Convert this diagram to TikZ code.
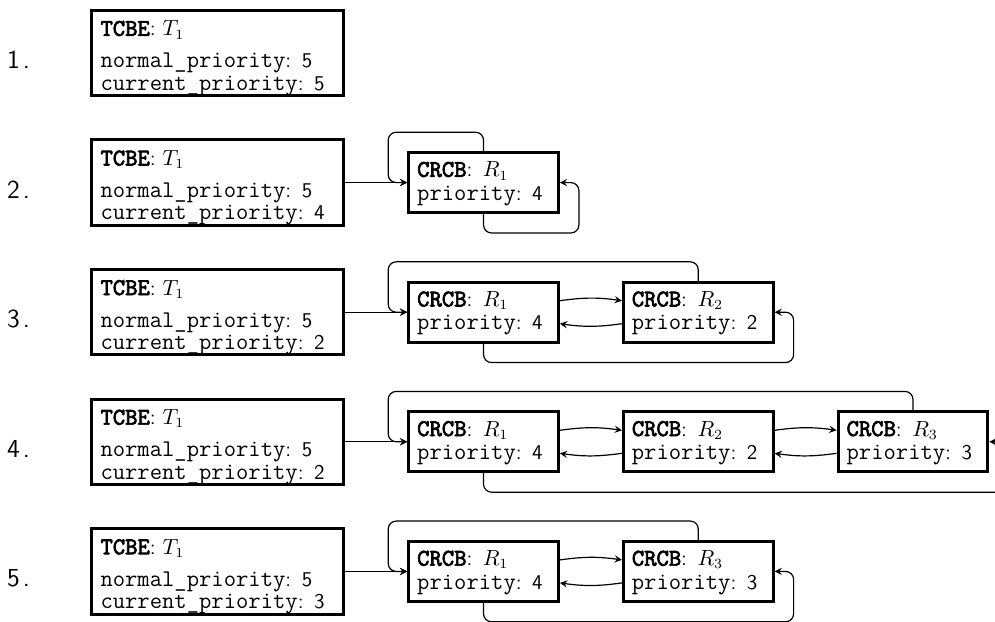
\documentclass[tikz,border=0pt]{standalone}
\usepackage{fontspec}
\setmonofont[Scale=1.14, BoldFont={Latin Modern Mono}, BoldFeatures={FakeBold=3}]{Latin Modern Mono}
\usetikzlibrary{positioning}

\begin{document}
\begin{tikzpicture}[x=0.5pt, y=-0.5pt, >=stealth, node distance=31pt,
    tcbebox/.style={draw, rectangle, line width=1.5pt, text width=117pt, inner xsep=4.6pt, inner ysep=0pt,
        align=left, font={\sffamily\fontsize{10.5}{11.2}\selectfont}},
    crcbbox/.style={draw, rectangle, line width=1.5pt, text width=66.35pt, inner xsep=4.25pt, inner ysep=3.4pt,
        align=left, font={\sffamily\fontsize{10.5}{11.7}\selectfont}},
    rowlabel/.style={font={\sffamily\fontsize{13}{15}\selectfont}},
    link/.style={->, semithick, rounded corners}]
    \useasboundingbox (0,0) rectangle (995,621);
    \clip (0,0) rectangle (995,621);

    % 1.
    \node[rowlabel] (label_1) at (18.5,60) {1\kern1.5pt.};
    \node[tcbebox] (tcbe_1) at (217.5,53) {\rule{0pt}{12.75pt}\texttt{\textbf{TCBE}}: $T_1$\\[4.8pt]
        \texttt{normal\_priority}: 5\\ \texttt{current\_priority}: 5};

    % 2.
    \node[rowlabel] (label_2) at (18.5,189.6) {2\kern1.5pt.};
    \node[tcbebox] (tcbe_2) at (217.5,182.6) {\rule{0pt}{12.75pt}\texttt{\textbf{TCBE}}: $T_1$\\[4.8pt]
        \texttt{normal\_priority}: 5\\ \texttt{current\_priority}: 4};
    \node[crcbbox] (r1_2) [right=of tcbe_2] {\rule{0pt}{8.65pt}\texttt{\textbf{CRCB}}:\enskip$R_1$\\ \texttt{priority}: 4};

    \draw[link] (tcbe_2.east) -- (r1_2.west);
    \draw[link] (r1_2.north) -- ++(0pt,9.5pt) -| ([xshift=-9.5pt]r1_2.west) -- (r1_2.west);
    \draw[link] (r1_2.south) -- ++(0pt,-9.5pt) -| ([xshift=9.5pt]r1_2.east) -- (r1_2.east);

    % 3.
    \node[rowlabel] (label_3) at (18.5,319.2) {3\kern1.5pt.};
    \node[tcbebox] (tcbe_3) at (217.5,312.2) {\rule{0pt}{12.75pt}\texttt{\textbf{TCBE}}: $T_1$\\[4.8pt]
        \texttt{normal\_priority}: 5\\ \texttt{current\_priority}: 2};
    \node[crcbbox] (r1_3) [right=of tcbe_3] {\rule{0pt}{8.65pt}\texttt{\textbf{CRCB}}:\enskip$R_1$\\ \texttt{priority}: 4};
    \node[crcbbox] (r2_3) [right=of r1_3] {\rule{0pt}{8.65pt}\texttt{\textbf{CRCB}}:\enskip$R_2$\\ \texttt{priority}: 2};

    \draw[link] (tcbe_3.east) -- (r1_3.west);
    \draw[link] ([yshift=5.75pt]r1_3.east) to[bend left=8] ([yshift=5.75pt]r2_3.west);
    \draw[link] ([yshift=-5.75pt]r2_3.west) to[bend left=8] ([yshift=-5.75pt]r1_3.east);
    \draw[link] (r2_3.north) -- ++(0pt,9.5pt) -| ([xshift=-9.5pt]r1_3.west) -- (r1_3.west);
    \draw[link] (r1_3.south) -- ++(0pt,-9.5pt) -| ([xshift=9.5pt]r2_3.east) -- (r2_3.east);

    % 4.
    \node[rowlabel] (label_4) at (18.5,448.8) {4\kern1.5pt.};
    \node[tcbebox] (tcbe_4) at (217.5,441.8) {\rule{0pt}{12.75pt}\texttt{\textbf{TCBE}}: $T_1$\\[4.8pt]
        \texttt{normal\_priority}: 5\\ \texttt{current\_priority}: 2};
    \node[crcbbox] (r1_4) [right=of tcbe_4] {\rule{0pt}{8.65pt}\texttt{\textbf{CRCB}}:\enskip$R_1$\\ \texttt{priority}: 4};
    \node[crcbbox] (r2_4) [right=of r1_4] {\rule{0pt}{8.65pt}\texttt{\textbf{CRCB}}:\enskip$R_2$\\ \texttt{priority}: 2};
    \node[crcbbox] (r3_4) [right=of r2_4] {\rule{0pt}{8.65pt}\texttt{\textbf{CRCB}}:\enskip$R_3$\\ \texttt{priority}: 3};

    \draw[link] (tcbe_4.east) -- (r1_4.west);
    \draw[link] ([yshift=5.75pt]r1_4.east) to[bend left=8] ([yshift=5.75pt]r2_4.west);
    \draw[link] ([yshift=-5.75pt]r2_4.west) to[bend left=8] ([yshift=-5.75pt]r1_4.east);
    \draw[link] ([yshift=5.75pt]r2_4.east) to[bend left=8] ([yshift=5.75pt]r3_4.west);
    \draw[link] ([yshift=-5.75pt]r3_4.west) to[bend left=8] ([yshift=-5.75pt]r2_4.east);
    \draw[link] (r3_4.north) -- ++(0pt,9.5pt) -| ([xshift=-9.5pt]r1_4.west) -- (r1_4.west);
    \draw[link] (r1_4.south) -- ++(0pt,-9.5pt) -| ([xshift=9.5pt]r3_4.east) -- (r3_4.east);

    % 5.
    \node[rowlabel] (label_5) at (18.5,578.4) {5\kern1.5pt.};
    \node[tcbebox] (tcbe_5) at (217.5,571.4) {\rule{0pt}{12.75pt}\texttt{\textbf{TCBE}}: $T_1$\\[4.8pt]
        \texttt{normal\_priority}: 5\\ \texttt{current\_priority}: 3};
    \node[crcbbox] (r1_5) [right=of tcbe_5] {\rule{0pt}{8.65pt}\texttt{\textbf{CRCB}}:\enskip$R_1$\\ \texttt{priority}: 4};
    \node[crcbbox] (r3_5) [right=of r1_5] {\rule{0pt}{8.65pt}\texttt{\textbf{CRCB}}:\enskip$R_3$\\ \texttt{priority}: 3};

    \draw[link] (tcbe_5.east) -- (r1_5.west);
    \draw[link] ([yshift=5.75pt]r1_5.east) to[bend left=8] ([yshift=5.75pt]r3_5.west);
    \draw[link] ([yshift=-5.75pt]r3_5.west) to[bend left=8] ([yshift=-5.75pt]r1_5.east);
    \draw[link] (r3_5.north) -- ++(0pt,9.5pt) -| ([xshift=-9.5pt]r1_5.west) -- (r1_5.west);
    \draw[link] (r1_5.south) -- ++(0pt,-9.5pt) -| ([xshift=9.5pt]r3_5.east) -- (r3_5.east);
\end{tikzpicture}
\end{document}
